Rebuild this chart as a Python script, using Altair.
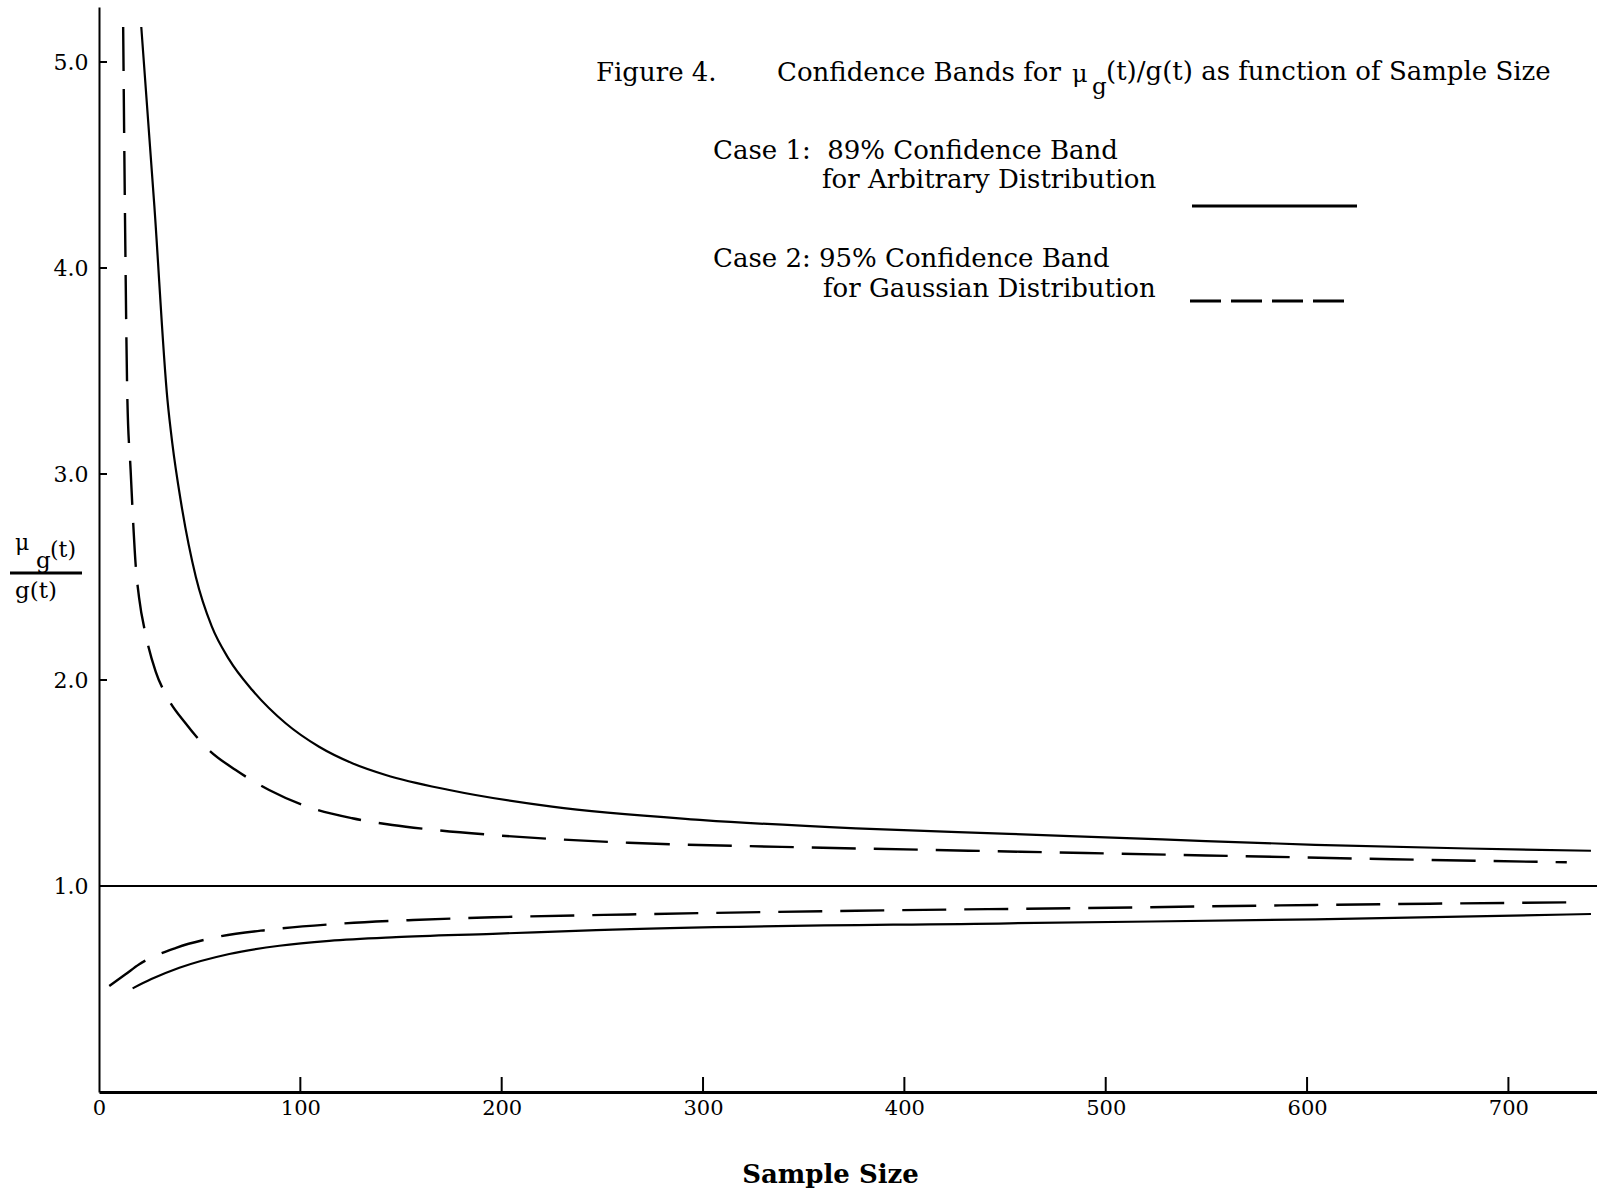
import altair as alt
import pandas as pd

# ---- data ----
case1_upper_n = [21, 27.5, 34, 36.4, 40.6, 48.1, 56, 64.6, 76.2, 92.7, 109.3, 125.8, 142.4, 174, 225, 300, 376, 452, 528, 604, 680, 741]
case1_upper_v = [5.17, 4.30, 3.36, 3.15, 2.87, 2.50, 2.26, 2.10, 1.95, 1.79, 1.676, 1.596, 1.539, 1.466, 1.385, 1.32, 1.28, 1.253, 1.226, 1.200, 1.182, 1.171]

case1_lower_n = [16.7, 26, 39.9, 64.7, 89.6, 114.4, 147.5, 195.6, 247, 452, 604, 741]
case1_lower_v = [0.503, 0.548, 0.603, 0.670, 0.710, 0.734, 0.752, 0.768, 0.786, 0.819, 0.838, 0.864]

case2_upper_n = [12, 13, 14.1, 15.7, 17, 18.2, 19.9, 23.2, 28.2, 34, 43, 54.6, 67.9, 84.5, 106, 125.8, 145.7, 167, 195, 263, 339, 414, 490, 566, 642, 729]
case2_upper_v = [5.17, 4.17, 3.36, 3.02, 2.76, 2.56, 2.40, 2.22, 2.04, 1.915, 1.79, 1.66, 1.563, 1.466, 1.377, 1.329, 1.296, 1.272, 1.248, 1.21, 1.19, 1.175, 1.16, 1.145, 1.13, 1.115]

case2_lower_n = [5.1, 13, 20, 38.3, 56.5, 84.6, 121, 156, 195.6, 263, 376, 490, 604, 733]
case2_lower_v = [0.515, 0.57, 0.62, 0.70, 0.748, 0.788, 0.818, 0.835, 0.848, 0.862, 0.88, 0.893, 0.908, 0.921]

x_tick_values = [0, 100, 200, 300, 400, 500, 600, 700]
x_tick_marks = [100, 200, 300, 400, 500, 600, 700]
y_tick_values = [1.0, 2.0, 3.0, 4.0, 5.0]
y_tick_marks = [2.0, 3.0, 4.0, 5.0]
reference_level = [1.0]

rows = []
for name, ns, vs in [
    ("case1_upper", case1_upper_n, case1_upper_v),
    ("case1_lower", case1_lower_n, case1_lower_v),
    ("case2_upper", case2_upper_n, case2_upper_v),
    ("case2_lower", case2_lower_n, case2_lower_v),
]:
    for n, v in zip(ns, vs):
        rows.append({"series": name, "n": n, "v": v})
df = pd.DataFrame(rows)

FONT = "DejaVu Serif"
W, H = 1498, 1085
LEFT, TOP = 99, 7

xs = alt.Scale(domain=[0, 744], nice=False, zero=False)
ys = alt.Scale(domain=[0, 5.267], nice=False, zero=False)

x_axis = alt.Axis(values=x_tick_values, format="d", ticks=False, grid=False,
                  domainWidth=3, domainColor="black",
                  labelFont=FONT, labelFontSize=21, labelColor="black",
                  labelPadding=5, labelOverlap=False, labelFlush=False,
                  title="Sample Size", titleFont=FONT, titleFontSize=26,
                  titleFontWeight="bold", titleColor="black",
                  titleX=731, titleY=90, titleBaseline="alphabetic")
y_axis = alt.Axis(values=y_tick_values, format=".1f", ticks=False, grid=False,
                  domainWidth=2, domainColor="black",
                  labelFont=FONT, labelFontSize=22, labelColor="black",
                  labelPadding=11, labelOverlap=False, labelFlush=False,
                  title=None)


def X(field):
    return alt.X(field, scale=xs, axis=x_axis)


def Y(field):
    return alt.Y(field, scale=ys, axis=y_axis)


solid = alt.Chart(df).transform_filter(
    "datum.series == 'case1_upper' || datum.series == 'case1_lower'"
).mark_line(color="black", strokeWidth=2.2, interpolate="monotone").encode(
    x=X("n:Q"), y=Y("v:Q"), detail="series:N",
)

dashed = alt.Chart(df).transform_filter(
    "datum.series == 'case2_upper' || datum.series == 'case2_lower'"
).mark_line(color="black", strokeWidth=2.4, strokeDash=[44, 18],
            interpolate="monotone").encode(
    x=X("n:Q"), y=Y("v:Q"), detail="series:N",
)

level = alt.Chart(pd.DataFrame({"v": reference_level})).mark_rule(
    color="black", strokeWidth=2).encode(y=Y("v:Q"))

xticks = alt.Chart(pd.DataFrame({"n": x_tick_marks})).mark_rule(
    color="black", strokeWidth=2).encode(
    x=X("n:Q"), y=alt.value(H - 15), y2=alt.value(H))

yticks = alt.Chart(pd.DataFrame({"v": y_tick_marks})).mark_rule(
    color="black", strokeWidth=2).encode(
    y=Y("v:Q"), x=alt.value(0), x2=alt.value(8))


def label(text, px, py, size=24, weight="normal", align="left"):
    return alt.Chart(pd.DataFrame({"t": [text]})).mark_text(
        align=align, baseline="alphabetic", font=FONT, fontSize=size,
        fontWeight=weight, color="black").encode(
        text="t:N", x=alt.value(px - LEFT), y=alt.value(py - TOP))


def hline(x1, x2, py, dash=None):
    kw = dict(color="black", strokeWidth=3)
    if dash:
        kw["strokeDash"] = dash
    return alt.Chart(pd.DataFrame({"k": [0]})).mark_rule(**kw).encode(
        x=alt.value(x1 - LEFT), x2=alt.value(x2 - LEFT), y=alt.value(py - TOP))


TS = 26    # title size
LS = 26    # legend text size
texts = [
    label("Figure 4.", 596, 81, size=TS),
    label("Confidence Bands for", 777, 81, size=TS),
    label("\u03bc", 1072, 82, size=24),
    label("g", 1092, 94, size=23),
    label("(t)/g(t) as function of Sample Size", 1106, 80, size=TS),
    label("Case 1:\u00a0 89% Confidence Band", 713, 159, size=LS),
    label("for Arbitrary Distribution", 822, 188, size=LS),
    label("Case 2: 95% Confidence Band", 713, 267, size=LS),
    label("for Gaussian Distribution", 823, 297, size=LS),
    # y-axis fraction label
    label("\u03bc", 15, 550, size=22),
    label("g", 36, 568, size=23),
    label("(t)", 50, 557, size=22),
    label("g(t)", 15, 598, size=23),
]
lines = [
    hline(1192, 1357, 206),
    hline(1190, 1350, 301, dash=[31, 10]),
    hline(10, 82, 573),
]

chart = alt.layer(solid, dashed, level, xticks, yticks, *texts, *lines).properties(
    width=W, height=H,
    autosize=alt.AutoSizeParams(type="none"),
    padding={"left": LEFT, "top": TOP, "right": 0, "bottom": 1191 - TOP - H},
    background="white",
).configure_view(stroke=None)

chart.save("out.html", embed_options={"renderer": "svg", "actions": False})
